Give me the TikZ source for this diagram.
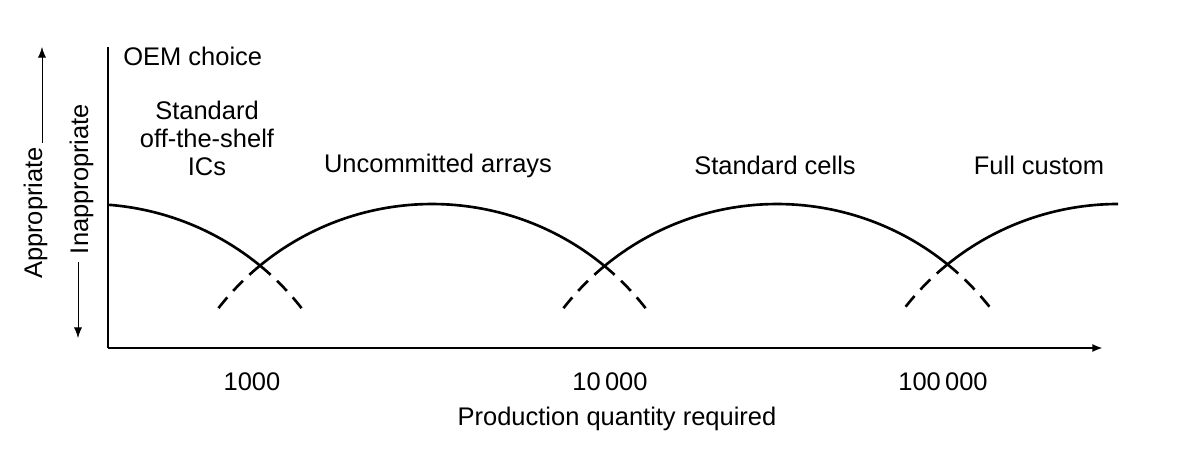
\documentclass[tikz,border=0pt]{standalone}
\usepackage{fontspec}
\setmainfont{Liberation Sans}
\usetikzlibrary{arrows.meta}
\tikzset{
  >={Latex[length=6pt,width=4.5pt]},
  axis/.style={line width=1.2pt},
  curve/.style={line width=1.5pt},
  ext/.style={curve,dash pattern=on 8pt off 5pt},
  lbl/.style={font=\fontsize{14.5}{16}\selectfont,inner sep=0pt},
  vlbl/.style={lbl,rotate=90,anchor=base}
}
\begin{document}
\begin{tikzpicture}[x=0.02cm,y=0.02cm]
  \useasboundingbox (0,0) rectangle (1186,467);
  % axes
  \coordinate (o) at (108,119);
  \coordinate (ytop) at (108,420);
  \coordinate (xend) at (1103,119);
  \draw[axis] (ytop) -- (o);
  \draw[axis,->] (o) -- (xend);

  % vertical scale
  \node[vlbl] (appr) at (42,254) {Appropriate};
  \node[vlbl] (inappr) at (88,288) {Inappropriate};
  \coordinate (abot) at (42,324);
  \coordinate (atop) at (42,420);
  \coordinate (itop) at (78,205);
  \coordinate (ibot) at (78,129);
  \draw[->] (abot) -- (atop);
  \draw[->] (itop) -- (ibot);

  % arch centres
  \coordinate (c1) at (88,-8);
  \coordinate (c2) at (432,-8);
  \coordinate (c3) at (777,-8);
  \coordinate (c4) at (1118,-8);

  \draw[curve] (c1) ++(85.8:271) arc[start angle=85.8,end angle=50.6,radius=271];
  \draw[ext] (c1) ++(50.6:271) arc[start angle=50.6,end angle=38,radius=271];

  \draw[ext] (c2) ++(129.4:271) arc[start angle=129.4,end angle=142,radius=271];
  \draw[curve] (c2) ++(129.4:271) arc[start angle=129.4,end angle=50.6,radius=271];
  \draw[ext] (c2) ++(50.6:271) arc[start angle=50.6,end angle=38,radius=271];

  \draw[ext] (c3) ++(129.4:271) arc[start angle=129.4,end angle=142,radius=271];
  \draw[curve] (c3) ++(129.4:271) arc[start angle=129.4,end angle=51,radius=271];
  \draw[ext] (c3) ++(51:271) arc[start angle=51,end angle=38.4,radius=271];

  \draw[ext] (c4) ++(129:271) arc[start angle=129,end angle=141.6,radius=271];
  \draw[curve] (c4) ++(129:271) arc[start angle=129,end angle=90,radius=271];

  % labels
  \node[lbl,anchor=base west] (oem) at (123,401) {OEM choice};
  \node[lbl,align=center,anchor=base] (ics) at (207,291) {Standard\\off-the-shelf\\ICs};
  \node[lbl,anchor=base] (ua) at (438,294) {Uncommitted arrays};
  \node[lbl,anchor=base] (sc) at (775,292) {Standard cells};
  \node[lbl,anchor=base] (fc) at (1039,292) {Full custom};
  \node[lbl,anchor=base] (t1) at (252,77) {1000};
  \node[lbl,anchor=base] (t2) at (610,77) {10\,000};
  \node[lbl,anchor=base] (t3) at (943,77) {100\,000};
  \node[lbl,anchor=base] (xlab) at (617,42) {Production quantity required};
\end{tikzpicture}
\end{document}
